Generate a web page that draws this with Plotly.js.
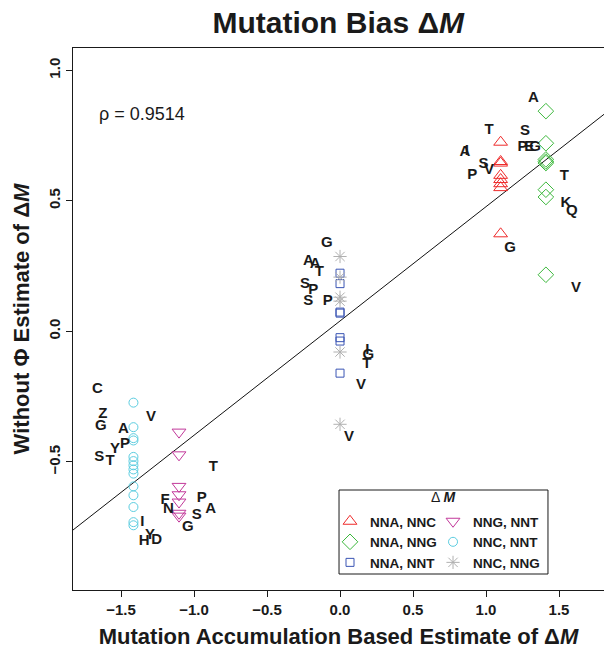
<!DOCTYPE html>
<html>
<head>
<meta charset="utf-8">
<script src="https://cdn.plot.ly/plotly-3.0.1.min.js"></script>
<style>html,body{margin:0;padding:0;background:#fff;}#chart{width:604px;height:649px;}</style>
</head>
<body>
<div id="chart"></div>
<script>
// ---- data ----
const seriesNames = ["NNA, NNC", "NNG, NNT", "NNA, NNG", "NNC, NNT", "NNA, NNT", "NNC, NNG"];

const nnaNncX = [1.10, 1.10, 1.10, 1.10, 1.10, 1.10, 1.10, 1.10];
const nnaNncY = [0.725, 0.651, 0.645, 0.598, 0.582, 0.566, 0.551, 0.374];

const nnaNngX = [1.41, 1.41, 1.41, 1.41, 1.41, 1.41, 1.41, 1.41];
const nnaNngY = [0.844, 0.721, 0.659, 0.651, 0.645, 0.543, 0.515, 0.217];

const nnaNntX = [0, 0, 0, 0, 0, 0, 0];
const nnaNntY = [0.223, 0.183, 0.074, 0.070, -0.024, -0.037, -0.160];

const nncNngX = [0, 0, 0, 0, 0, 0];
const nncNngY = [0.287, 0.208, 0.131, 0.116, -0.079, -0.356];

const nncNntX = [-1.415, -1.415, -1.415, -1.415, -1.415, -1.415, -1.415, -1.415, -1.415, -1.415, -1.415, -1.415, -1.415, -1.415];
const nncNntY = [-0.273, -0.367, -0.409, -0.418, -0.481, -0.497, -0.513, -0.529, -0.545, -0.594, -0.628, -0.673, -0.731, -0.743];

const nngNntX = [-1.103, -1.103, -1.103, -1.103, -1.103, -1.103, -1.103];
const nngNntY = [-0.386, -0.473, -0.594, -0.626, -0.654, -0.697, -0.708];

// amino acid labels
const aaText = ["A","T","S","P","E","G","A","I","S","V","P","T","K","Q","G","V",
                "G","A","A","T","S","P","S","P","I","G","T","V","V",
                "C","Z","G","A","V","P","Y","S","T","T","F","N","P","A","S","G","I","Y","H","D"];
const aaX = [1.324,1.021,1.267,1.249,1.296,1.336,0.856,0.868,0.982,1.021,0.906,1.536,1.548,1.587,1.164,1.616,
             -0.091,-0.217,-0.171,-0.141,-0.240,-0.183,-0.217,-0.084,0.187,0.194,0.183,0.144,0.062,
             -1.662,-1.625,-1.639,-1.484,-1.295,-1.473,-1.541,-1.649,-1.575,-0.868,-1.199,-1.176,-0.947,-0.886,-0.982,-1.043,-1.354,-1.301,-1.342,-1.256];
const aaY = [0.895,0.770,0.766,0.706,0.706,0.706,0.687,0.690,0.642,0.619,0.598,0.594,0.492,0.461,0.317,0.164,
             0.336,0.269,0.259,0.225,0.180,0.157,0.115,0.116,-0.073,-0.092,-0.126,-0.207,-0.407,
             -0.223,-0.316,-0.364,-0.375,-0.328,-0.431,-0.453,-0.481,-0.497,-0.520,-0.648,-0.680,-0.641,-0.683,-0.705,-0.750,-0.731,-0.782,-0.805,-0.801];

// regression line
const fitSlope = 0.438;
const fitIntercept = 0.040;
const fitX = [-1.9, 1.9];
const rhoText = "ρ = 0.9514";

const xTicks = [-1.5, -1.0, -0.5, 0.0, 0.5, 1.0, 1.5];
const yTicks = [-0.5, 0.0, 0.5, 1.0];

// ---- chart ----
const FONT = "Liberation Sans, Arial, Helvetica, sans-serif";
const baseMarker = (symbol, color, size) => ({symbol: symbol, color: color, size: size, line: {color: color, width: 1}});

const traces = [
  {x: fitX, y: fitX.map(v => fitIntercept + fitSlope * v), mode: "lines", line: {color: "#111", width: 1}, showlegend: false, hoverinfo: "skip"},
  {x: nnaNncX, y: nnaNncY, mode: "markers", name: seriesNames[0], marker: baseMarker("triangle-up-open", "#ee2b2b", 12), legend: "legend"},
  {x: nnaNngX, y: nnaNngY, mode: "markers", name: seriesNames[2], marker: baseMarker("diamond-open", "#3cb83c", 12), legend: "legend"},
  {x: nnaNntX, y: nnaNntY, mode: "markers", name: seriesNames[4], marker: baseMarker("square-open", "#3a55b4", 8), legend: "legend"},
  {x: nngNntX, y: nngNntY, mode: "markers", name: seriesNames[1], marker: baseMarker("triangle-down-open", "#c2389a", 12), legend: "legend2"},
  {x: nncNntX, y: nncNntY, mode: "markers", name: seriesNames[3], marker: baseMarker("circle-open", "#5ccde0", 9), legend: "legend2"},
  {x: nncNngX, y: nncNngY, mode: "markers", name: seriesNames[5], marker: baseMarker("asterisk-open", "#b0b0b0", 11), legend: "legend2"},
  {x: aaX, y: aaY, text: aaText, mode: "text", textposition: "middle center",
   textfont: {family: FONT, size: 15, color: "#1a1a1a", weight: "bold"}, showlegend: false, hoverinfo: "skip"}
];

const legendCommon = {
  bgcolor: "rgba(0,0,0,0)", borderwidth: 0, orientation: "v",
  font: {family: FONT, size: 13.5, color: "#1a1a1a", weight: "bold"},
  xanchor: "left", yanchor: "top", tracegroupgap: 0, itemwidth: 30
};

const layout = {
  width: 604, height: 649,
  margin: {l: 73, r: 0, t: 48, b: 59},
  paper_bgcolor: "#fff", plot_bgcolor: "#fff",
  font: {family: FONT, color: "#1a1a1a"},
  title: {text: "<b>Mutation Bias Δ<i>M</i></b>", x: 0.56, xanchor: "center", y: 0.965, yanchor: "middle",
          font: {family: FONT, size: 30, color: "#1a1a1a"}},
  xaxis: {range: [-1.829, 1.808], tickvals: xTicks, ticktext: xTicks.map(v => v.toFixed(1).replace("-", "\u2212")),
          ticks: "outside", ticklen: 6, tickwidth: 1, tickcolor: "#1a1a1a",
          showline: true, linecolor: "#1a1a1a", linewidth: 1, mirror: true,
          showgrid: false, zeroline: false,
          tickfont: {family: FONT, size: 15, color: "#1a1a1a", weight: "bold"},
          title: {text: "<b>Mutation Accumulation Based Estimate of Δ<i>M</i></b>", standoff: 14,
                  font: {family: FONT, size: 22, color: "#1a1a1a"}}},
  yaxis: {range: [-0.991, 1.086], tickvals: yTicks, ticktext: yTicks.map(v => v.toFixed(1).replace("-", "\u2212")),
          ticks: "outside", ticklen: 6, tickwidth: 1, tickcolor: "#1a1a1a", tickangle: -90,
          showline: true, linecolor: "#1a1a1a", linewidth: 1, mirror: false,
          showgrid: false, zeroline: false,
          tickfont: {family: FONT, size: 15, color: "#1a1a1a", weight: "bold"},
          title: {text: "<b>Without Φ Estimate of Δ<i>M</i></b>", standoff: 10,
                  font: {family: FONT, size: 22, color: "#1a1a1a"}}},
  legend: Object.assign({}, legendCommon, {x: 0.484, y: 0.155}),
  legend2: Object.assign({}, legendCommon, {x: 0.678, y: 0.155}),
  shapes: [
    {type: "rect", xref: "paper", yref: "paper", x0: 0.501, x1: 0.8945, y0: 0.0295, y1: 0.1845,
     line: {color: "#1a1a1a", width: 1}, fillcolor: "rgba(255,255,255,0)", layer: "below"}
  ],
  annotations: [
    {xref: "x", yref: "y", x: -1.664, y: 0.835, xanchor: "left", yanchor: "middle", showarrow: false,
     text: rhoText, font: {family: FONT, size: 18, color: "#1a1a1a"}},
    {xref: "paper", yref: "paper", x: 0.697, y: 0.1716, xanchor: "center", yanchor: "middle", showarrow: false,
     text: "Δ <b><i>M</i></b>", font: {family: FONT, size: 14, color: "#1a1a1a"}}
  ]
};

Plotly.newPlot("chart", traces, layout, {displayModeBar: false, staticPlot: true});
</script>
</body>
</html>
